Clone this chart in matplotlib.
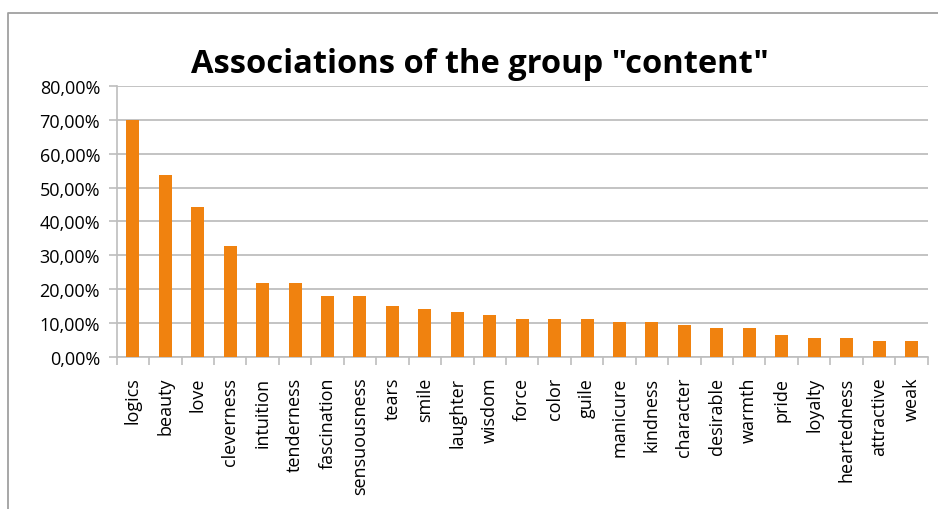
import matplotlib
matplotlib.use("Agg")
import matplotlib.pyplot as plt
import numpy as np
from matplotlib.ticker import FuncFormatter, FixedLocator, NullFormatter
from matplotlib.lines import Line2D

words = ["logics", "beauty", "love", "cleverness", "intuition", "tenderness",
         "fascination", "sensuousness", "tears", "smile", "laughter", "wisdom",
         "force", "color", "guile", "manicure", "kindness", "character",
         "desirable", "warmth", "pride", "loyalty", "heartedness", "attractive", "weak"]
shares = [70.0, 53.8, 44.3, 32.8, 21.9, 21.9, 18.1, 18.1, 15.1, 14.2, 13.4, 12.5,
          11.3, 11.3, 11.3, 10.4, 10.4, 9.5, 8.6, 8.6, 6.6, 5.7, 5.7, 4.8, 4.8]

plt.rcParams['font.family'] = ['Open Sans', 'DejaVu Sans']
grid_col = "#BEBEBE"

fig = plt.figure(figsize=(9.38, 5.1), dpi=100)
ax = fig.add_axes([0.1244, 0.2975, 0.8646, 0.5325])

x = np.arange(len(words))
ax.bar(x, shares, width=0.4, color="#F0820F", zorder=3)

ax.set_xlim(-0.5, len(words) - 0.5)
ax.set_ylim(0, 80)
ax.set_yticks(np.arange(0, 81, 10))
ax.yaxis.set_major_formatter(FuncFormatter(lambda v, p: ("%.2f%%" % v).replace(".", ",")))
ax.grid(axis="y", color=grid_col, linewidth=1.3, zorder=0)

ax.set_xticks(x)
ax.set_xticklabels(words, rotation=90)
ax.xaxis.set_minor_locator(FixedLocator(np.arange(-0.5, len(words), 1)))
ax.xaxis.set_minor_formatter(NullFormatter())
ax.tick_params(axis="x", which="major", length=0, pad=14, labelsize=13, colors="black")
ax.tick_params(axis="x", which="minor", length=6, width=1.2, color=grid_col)
ax.tick_params(axis="y", length=6, width=1.2, color=grid_col, labelsize=13, pad=6)

for s in ["top", "right"]:
    ax.spines[s].set_visible(False)
for s in ["left", "bottom"]:
    ax.spines[s].set_color(grid_col)
    ax.spines[s].set_linewidth(1.2)

fig.suptitle('Associations of the group "content"', x=0.512, y=0.905,
             fontsize=23.5, fontweight="bold")

# outer chart frame
fig.add_artist(Line2D([8 / 938, 8 / 938, 1.0], [0.0, 1 - 14 / 510, 1 - 14 / 510],
                      transform=fig.transFigure, color="#A0A0A0", linewidth=1.3))

fig.savefig("out.png", dpi=100)
